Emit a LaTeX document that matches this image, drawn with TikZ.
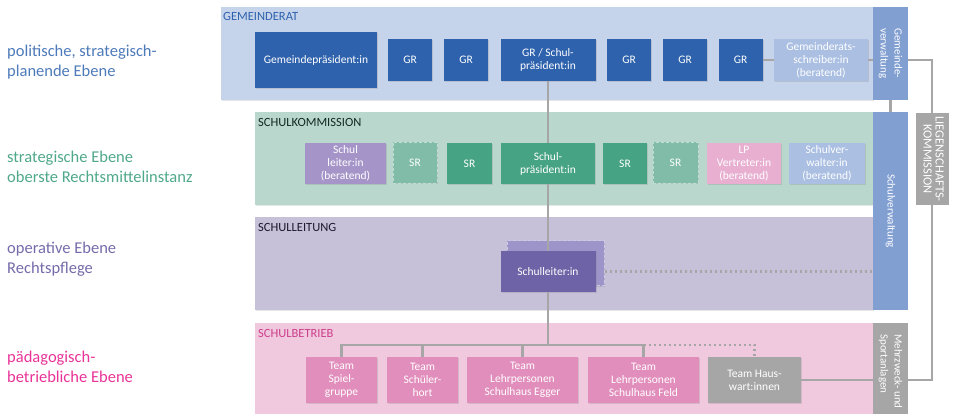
\documentclass[tikz,border=0pt]{standalone}
\usepackage{fontspec}
\setmainfont{Carlito}
\usetikzlibrary{shadows}
\definecolor{gband}{HTML}{C6D4EB}
\definecolor{kband}{HTML}{BAD7CE}
\definecolor{lband}{HTML}{C6C0D9}
\definecolor{bband}{HTML}{F1C9DE}
\definecolor{gblue}{HTML}{2E62AD}
\definecolor{lblue}{HTML}{AABFE2}
\definecolor{vblue}{HTML}{829FD2}
\definecolor{kgreen}{HTML}{46A384}
\definecolor{kpale}{HTML}{80BCA7}
\definecolor{lpurple}{HTML}{6E63A7}
\definecolor{ppale}{HTML}{A594C8}
\definecolor{spurple}{HTML}{9D94C9}
\definecolor{tpink}{HTML}{E28EBC}
\definecolor{ppink}{HTML}{E8AFD1}
\definecolor{lgrey}{HTML}{A6A6A6}
\begin{document}
\begin{tikzpicture}[x=1pt, y=-1pt,
  b/.style={rectangle, inner sep=0pt, text=white, align=center, font=\fontsize{11.5}{13}\selectfont,
    drop shadow={opacity=.25, shadow xshift=1pt, shadow yshift=-1pt}},
  band/.style={drop shadow={opacity=.2, shadow xshift=1pt, shadow yshift=-1.5pt}},
  title/.style={anchor=west, inner sep=0pt, font=\fontsize{12.5}{14}\selectfont},
  lvl/.style={anchor=west, inner sep=0pt, align=left, font=\fontsize{16.5}{20}\selectfont},
  strip/.style={rectangle, inner sep=0pt, text=white, font=\fontsize{11}{14}\selectfont},
  ghost/.style={draw, line width=1pt, dash pattern=on 3pt off 2pt},
  line/.style={draw=lgrey, line width=2.5pt},
  dotline/.style={draw=lgrey, line width=2.5pt, dash pattern=on 2.5pt off 2.5pt}]
  \useasboundingbox (0,0) rectangle (954,414);
  \fill[band, fill=gband] (221,7) rectangle (873,100);
  \fill[band, fill=kband] (255,112) rectangle (873,205);
  \fill[band, fill=lband] (255,217) rectangle (873,310);
  \fill[band, fill=bband] (255,323) rectangle (873,420);
  \node[title, text=gblue] (tg) at (223,16) {GEMEINDERAT};
  \node[title, text=black!75!kgreen] (tk) at (258,122) {SCHULKOMMISSION};
  \node[title, text=black!75!lpurple] (tl) at (258,227) {SCHULLEITUNG};
  \node[title, text=black!20!magenta!80!tpink] (tb) at (258,333) {SCHULBETRIEB};
  \node[lvl, text=gblue!85!white] (l1) at (7,62) {politische, strategisch-\\planende Ebene};
  \node[lvl, text=kgreen!95!white] (l2) at (7,167) {strategische Ebene\\oberste Rechtsmittelinstanz};
  \node[lvl, text=lpurple!95!white] (l3) at (7,259) {operative Ebene\\Rechtspflege};
  \node[lvl, text=magenta!70!tpink] (l4) at (7,367) {pädagogisch-\\betriebliche Ebene};
  \node[b, fill=gblue, minimum width=122pt, minimum height=56pt] (gp) at (316,60) {Gemeindepräsident:in};
  \node[b, fill=gblue, minimum width=44pt, minimum height=42pt] (g1) at (410,60) {GR};
  \node[b, fill=gblue, minimum width=44pt, minimum height=42pt] (g2) at (466,60) {GR};
  \node[b, fill=gblue, minimum width=95pt, minimum height=42pt] (gs) at (548,60) {GR / Schul-\\präsident:in};
  \node[b, fill=gblue, minimum width=44pt, minimum height=42pt] (g3) at (629,60) {GR};
  \node[b, fill=gblue, minimum width=44pt, minimum height=42pt] (g4) at (685,60) {GR};
  \node[b, fill=gblue, minimum width=44pt, minimum height=42pt] (g5) at (740.5,60) {GR};
  \node[b, fill=lblue, minimum width=94pt, minimum height=42pt] (gsr) at (821,60) {Gemeinderats-\\schreiber:in\\(beratend)};
  \node[strip, fill=vblue, minimum width=35pt, minimum height=93pt] (gv) at (890.5,53.5)
    {\rotatebox{-90}{\begin{tabular}{@{}l@{}}Gemeinde-\\verwaltung\end{tabular}}};
  \node[b, fill=ppale, minimum width=81pt, minimum height=41pt] (kl) at (345.5,163.5) {Schul\\leiter:in\\(beratend)};
  \node[b, ghost, draw=kpale!50!white, fill=kpale, minimum width=44pt, minimum height=41pt] (sr1) at (415,163) {SR};
  \node[b, fill=kgreen, minimum width=45pt, minimum height=41pt] (sr2) at (469.5,163.5) {SR};
  \node[b, fill=kgreen, minimum width=94pt, minimum height=41pt] (sp) at (548,163.5) {Schul-\\präsident:in};
  \node[b, fill=kgreen, minimum width=44pt, minimum height=41pt] (sr3) at (625,163.5) {SR};
  \node[b, ghost, draw=kpale!50!white, fill=kpale, minimum width=45pt, minimum height=41pt] (sr4) at (675.5,163) {SR};
  \node[b, fill=ppink, minimum width=74pt, minimum height=41pt] (lp) at (744,163.5) {LP\\Vertreter:in\\(beratend)};
  \node[b, fill=lblue, minimum width=76pt, minimum height=41pt] (svw) at (827,163.5) {Schulver-\\walter:in\\(beratend)};
  \node[strip, fill=vblue, minimum width=35pt, minimum height=198pt] (sv) at (890.5,211)
    {\rotatebox{-90}{Schulverwaltung}};
  \node[b, ghost, draw=spurple!50!white, fill=spurple, minimum width=97pt, minimum height=45pt] (slsh) at (555.5,263.5) {};
  \node[b, fill=lpurple, minimum width=95pt, minimum height=41pt] (sl) at (548,271.5) {Schulleiter:in};
  \node[b, fill=tpink, minimum width=71pt, minimum height=46pt] (t1) at (341.5,380) {Team\\Spiel-\\gruppe};
  \node[b, fill=tpink, minimum width=71pt, minimum height=46pt] (t2) at (422.5,380) {Team\\Schüler-\\hort};
  \node[b, fill=tpink, minimum width=111pt, minimum height=46pt] (t3) at (522.5,380) {Team\\Lehrpersonen\\Schulhaus Egger};
  \node[b, fill=tpink, minimum width=111pt, minimum height=46pt] (t4) at (643.5,380) {Team\\Lehrpersonen\\Schulhaus Feld};
  \node[b, fill=lgrey, minimum width=93pt, minimum height=46pt] (hw) at (754.5,380) {Team Haus-\\wart:innen};
  \node[strip, fill=lgrey, minimum width=35pt, minimum height=97pt] (mz) at (890.5,371.5)
    {\rotatebox{-90}{\begin{tabular}{@{}l@{}}Mehrzweck- und\\Sportanlagen\end{tabular}}};
  \node[strip, fill=lgrey, minimum width=33pt, minimum height=92pt, font=\fontsize{12.5}{12}\selectfont] (lk) at (932,159)
    {\rotatebox{-90}{\begin{tabular}{@{}c@{}}LIEGENSCHAFTS-\\KOMMISSION\end{tabular}}};
  \coordinate (bus) at (548,345);
  \draw[line] (g5) -- (gsr);
  \draw[line] (gsr.east) -- (gsr.east -| gv.west);
  \draw[line] (gsr.east -| gv.east) -| (lk.north);
  \draw[line] (gv) -- (sv);
  \draw[line] (gs) -- (sp);
  \draw[line] (sp) -- (sl);
  \draw[line] (sl) -- (bus);
  \draw[line] (t1.north) |- (bus) -| (t4.north);
  \draw[line] (t2.north) -- (t2.north |- bus);
  \draw[line] (t3.north) -- (t3.north |- bus);
  \draw[dotline] (t4.north |- bus) -| (hw.north);
  \draw[dotline] (slsh.east |- sl) -- (sl -| sv.west);
  \draw[line] (hw.east) -- (hw -| mz.west);
  \draw[line] (lk.south) |- (hw -| mz.east);
\end{tikzpicture}
\end{document}
